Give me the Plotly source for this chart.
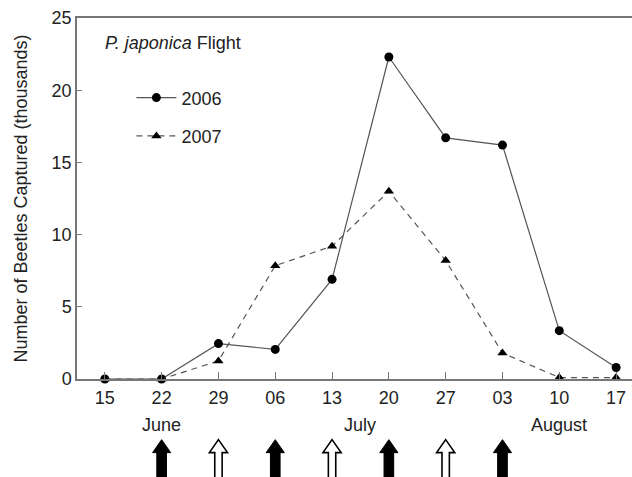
import plotly.graph_objects as go

dates = ["15", "22", "29", "06", "13", "20", "27", "03", "10", "17"]
catch_2006 = [0.0, 0.0, 2.45, 2.05, 6.9, 22.3, 16.7, 16.2, 3.35, 0.8]
catch_2007 = [0.0, 0.0, 1.25, 7.85, 9.2, 13.0, 8.2, 1.8, 0.1, 0.1]
months = ["June", "July", "August"]
month_pos = [1, 4.5, 8]
filled_arrows = [1, 3, 5, 7]
hollow_arrows = [2, 4, 6]

x = list(range(len(dates)))
FONT = "Liberation Sans, Arial, sans-serif"
FS = 18

fig = go.Figure()
fig.add_trace(go.Scatter(
    x=x, y=catch_2006, name="2006", mode="lines+markers", legendgroup="a",
    line=dict(color="#555555", width=1.2),
    marker=dict(symbol="circle", size=9, color="black"),
    cliponaxis=False))
fig.add_trace(go.Scatter(
    x=x, y=catch_2007, name="2007", mode="lines+markers", legendgroup="b",
    line=dict(color="#555555", width=1.2, dash="6px,5px"),
    marker=dict(symbol="triangle-up", size=9, color="black"),
    cliponaxis=False))

shapes = []
tip, bottom = -0.168, -0.32
hw, sw = 0.16, 0.085
for i in filled_arrows:
    p = (f"M {i} {tip} L {i+hw} {tip-0.036} L {i+sw} {tip-0.036} L {i+sw} {bottom} "
         f"L {i-sw} {bottom} L {i-sw} {tip-0.036} L {i-hw} {tip-0.036} Z")
    shapes.append(dict(type="path", xref="x", yref="paper", path=p,
                       fillcolor="black", line=dict(color="black", width=1)))
hs = 0.065
for i in hollow_arrows:
    p = (f"M {i} {tip} L {i+hw} {tip-0.036} L {i+hs} {tip-0.036} L {i+hs} {bottom} "
         f"L {i-hs} {bottom} L {i-hs} {tip-0.036} L {i-hw} {tip-0.036} Z")
    shapes.append(dict(type="path", xref="x", yref="paper", path=p,
                       fillcolor="white", line=dict(color="black", width=1.6)))

annotations = [dict(x=p, y=-0.128, xref="x", yref="paper", text=m, showarrow=False,
                    font=dict(family=FONT, size=FS, color="#222"), yanchor="middle")
               for m, p in zip(months, month_pos)]
annotations.append(dict(x=0.046, y=0.93, xref="paper", yref="paper", xanchor="left",
                        yanchor="middle", showarrow=False,
                        text="<i>P. japonica</i> Flight",
                        font=dict(family=FONT, size=FS, color="#222")))

fig.update_layout(
    width=632, height=477,
    margin=dict(l=77, r=0, t=18, b=98),
    paper_bgcolor="white", plot_bgcolor="white",
    font=dict(family=FONT, size=FS, color="#222"),
    showlegend=True,
    legend=dict(x=0.098, y=0.83, xanchor="left", yanchor="top",
                bgcolor="rgba(0,0,0,0)", font=dict(size=FS, family=FONT),
                itemwidth=40, tracegroupgap=12),
    xaxis=dict(range=[-0.49, 9.28], tickvals=x, ticktext=dates,
               showline=True, linecolor="#777", linewidth=1.5, mirror=True,
               ticks="inside", ticklen=7, tickcolor="#777", showgrid=False,
               zeroline=False, tickfont=dict(size=FS), ticklabelstandoff=2),
    yaxis=dict(range=[0, 25], tickvals=[0, 5, 10, 15, 20, 25],
               showline=True, linecolor="#777", linewidth=1.5,
               ticks="inside", ticklen=5, tickcolor="#777", showgrid=False,
               zeroline=False, tickfont=dict(size=FS),
               title=dict(text="Number of Beetles Captured (thousands)",
                          font=dict(size=FS), standoff=19)),
    shapes=shapes, annotations=annotations,
)

fig.write_html("out.html")
